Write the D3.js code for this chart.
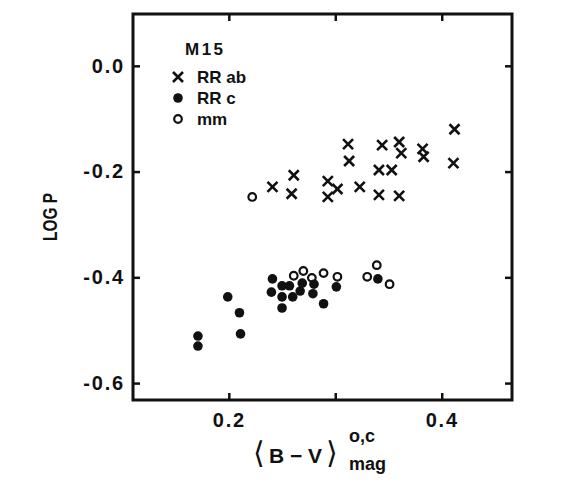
<!DOCTYPE html>
<meta charset="utf-8">
<style>
 body { margin: 0; background: #fff; }
 svg { font-family: "Liberation Sans", Arial, sans-serif; }
 .frame { fill: none; stroke: #111; stroke-width: 3; }
 .axis path.domain { display: none; }
 .axis line { stroke: #111; stroke-width: 2.5; }
 .axis text { fill: #111; font-weight: bold; font-size: 20px; letter-spacing: 1.8px; }
 .rrab { fill: none; stroke: #111; stroke-width: 2.6; }
 .rrc { fill: #111; }
 .mm { fill: none; stroke: #111; stroke-width: 2.2; }
 .legend text { font-weight: bold; font-size: 17px; fill: #111; }
 .xlabel { fill: #111; }
</style>
<svg width="570" height="492"></svg>
<script src="https://cdn.jsdelivr.net/npm/d3@7"></script>
<script>

 // RR ab stars (crosses)
 var rrabX = [0.412, 0.312, 0.313, 0.344, 0.360, 0.362, 0.382, 0.383, 0.411, 0.341,
              0.353, 0.293, 0.302, 0.293, 0.323, 0.341, 0.360, 0.261, 0.241, 0.259]
 var rrabY = [-0.120, -0.148, -0.180, -0.150, -0.144, -0.165, -0.157, -0.172, -0.184, -0.197,
              -0.197, -0.218, -0.233, -0.248, -0.229, -0.244, -0.246, -0.207, -0.229, -0.242]

 // RR c stars (filled dots)
 var rrcX = [0.241, 0.250, 0.257, 0.269, 0.240, 0.250, 0.260, 0.267, 0.280, 0.279,
             0.250, 0.289, 0.301, 0.340, 0.199, 0.210, 0.211, 0.171, 0.171]
 var rrcY = [-0.403, -0.416, -0.416, -0.411, -0.428, -0.437, -0.437, -0.426, -0.413, -0.431,
             -0.458, -0.450, -0.418, -0.403, -0.437, -0.467, -0.507, -0.511, -0.530]

 // mm stars (open circles)
 var mmX = [0.222, 0.261, 0.270, 0.278, 0.289, 0.302, 0.330, 0.339, 0.351]
 var mmY = [-0.248, -0.397, -0.388, -0.401, -0.392, -0.399, -0.399, -0.377, -0.413]

 var xTicks = [0.2, 0.3, 0.4]
 var xTickLabels = ['0.2', '', '0.4']
 var yTicks = [0.0, -0.2, -0.4, -0.6]
 var yTickLabels = ['0.0', '-0.2', '-0.4', '-0.6']

 var legendNames = ['RR ab', 'RR c', 'mm']

 var svg = d3.select('svg')

 var x = d3.scaleLinear().domain([0.11, 0.466]).range([133, 512])
 var y = d3.scaleLinear().domain([0.098, -0.632]).range([14, 400])

 var x0 = x.range()[0], x1 = x.range()[1]
 var y0 = y.range()[0], y1 = y.range()[1]

 // axes with inward ticks
 svg.append('g').attr('class', 'axis')
    .attr('transform', `translate(0,${y1})`)
    .call(d3.axisBottom(x).tickValues(xTicks).tickSizeInner(-7).tickSizeOuter(0)
            .tickPadding(13).tickFormat((d, i) => xTickLabels[i]))
 svg.append('g').attr('class', 'axis')
    .attr('transform', `translate(0,${y0})`)
    .call(d3.axisTop(x).tickValues(xTicks).tickSizeInner(-7).tickSizeOuter(0).tickFormat(''))
 svg.append('g').attr('class', 'axis')
    .attr('transform', `translate(${x0},0)`)
    .call(d3.axisLeft(y).tickValues(yTicks).tickSizeInner(-7).tickSizeOuter(0)
            .tickPadding(8).tickFormat((d, i) => yTickLabels[i]))
 svg.append('g').attr('class', 'axis')
    .attr('transform', `translate(${x1},0)`)
    .call(d3.axisRight(y).tickValues(yTicks).tickSizeInner(-7).tickSizeOuter(0).tickFormat(''))

 svg.append('rect').attr('class', 'frame')
    .attr('x', x0).attr('y', y0)
    .attr('width', x1 - x0).attr('height', y1 - y0)

 var cross = d3.symbol().type(d3.symbolTimes).size(67)

 svg.append('g').selectAll('path')
    .data(d3.zip(rrabX, rrabY))
    .join('path')
    .attr('class', 'rrab')
    .attr('d', cross)
    .attr('transform', d => `translate(${x(d[0])},${y(d[1])})`)

 svg.append('g').selectAll('circle')
    .data(d3.zip(rrcX, rrcY))
    .join('circle')
    .attr('class', 'rrc')
    .attr('r', 4.8)
    .attr('cx', d => x(d[0]))
    .attr('cy', d => y(d[1]))

 svg.append('g').selectAll('circle')
    .data(d3.zip(mmX, mmY))
    .join('circle')
    .attr('class', 'mm')
    .attr('r', 3.8)
    .attr('cx', d => x(d[0]))
    .attr('cy', d => y(d[1]))

 // legend
 var legend = svg.append('g').attr('class', 'legend')
 legend.append('text').attr('x', 185).attr('y', 55)
       .style('letter-spacing', '2.5px').text('M15')
 var rows = legend.selectAll('g.row').data(legendNames).join('g')
       .attr('class', 'row')
       .attr('transform', (d, i) => `translate(178,${77 + i * 21})`)
 rows.append('text').attr('x', 19).attr('y', 6).text(d => d)
 rows.filter((d, i) => i == 0).append('path').attr('class', 'rrab').attr('d', cross)
 rows.filter((d, i) => i == 1).append('circle').attr('class', 'rrc').attr('r', 4.8)
 rows.filter((d, i) => i == 2).append('circle').attr('class', 'mm').attr('r', 3.8)

 // axis titles
 svg.append('text')
    .attr('transform', 'translate(57,217) rotate(-90)')
    .attr('text-anchor', 'middle')
    .style('font-weight', 'bold').style('font-size', '21px').style('fill', '#111')
    .attr('textLength', 48).attr('lengthAdjust', 'spacingAndGlyphs')
    .text('LOG P')

 var xl = svg.append('text').attr('class', 'xlabel')
    .attr('x', 253).attr('y', 463)
 xl.append('tspan').style('font-size', '30px').text('⟨')
 xl.append('tspan').attr('dx', 4).style('font-size', '21px').style('font-weight', 'bold')
   .text('B − V')
 xl.append('tspan').attr('dx', 4).style('font-size', '30px').text('⟩')

 svg.append('text').attr('class', 'xlabel')
    .attr('x', 349).attr('y', 442)
    .style('font-size', '18px').style('font-weight', 'bold')
    .text('o,c')
 svg.append('text').attr('class', 'xlabel')
    .attr('x', 349).attr('y', 470)
    .style('font-size', '18px').style('font-weight', 'bold')
    .text('mag')

</script>
